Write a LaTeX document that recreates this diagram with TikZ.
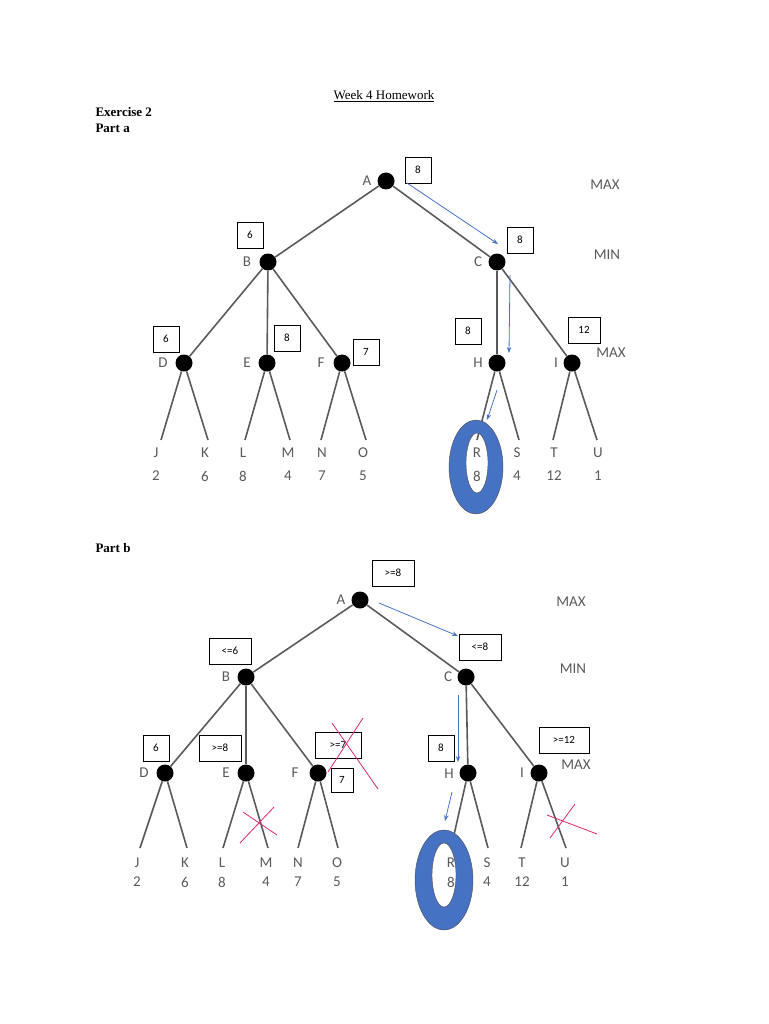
\documentclass[tikz,border=0pt]{standalone}
\usepackage{fontspec}
\setmainfont{Liberation Serif}
\newfontfamily\sansf{Carlito}
\usetikzlibrary{arrows.meta}
\definecolor{treegray}{RGB}{90,90,90}
\definecolor{ovalblue}{RGB}{70,114,196}
\definecolor{crossred}{RGB}{220,40,110}
\begin{document}
\begin{tikzpicture}[x=1pt,y=-1pt,
    dot/.style={circle,fill=black,inner sep=0pt,minimum size=17pt},
    edge/.style={treegray,line width=1.6pt},
    lbl/.style={font=\sansf\fontsize{15}{15}\selectfont,text=treegray},
    val/.style={draw,thick,fill=white,font=\sansf\fontsize{11}{11}\selectfont,minimum width=26pt,minimum height=26pt,inner sep=2pt},
    move/.style={ovalblue,thick,-{Stealth[length=6pt]}},
    cross/.style={crossred,thick}]
    \useasboundingbox (0,0) rectangle (768,1024);

    % Header
    \node[font=\fontsize{13}{13}\selectfont] (title) at (384,96) {\underline{Week 4 Homework}};
    \node[anchor=west,font=\bfseries\fontsize{13}{13}\selectfont] (ex) at (92,112) {Exercise 2};
    \node[anchor=west,font=\bfseries\fontsize{13}{13}\selectfont] (pa) at (92,128) {Part a};
    \node[anchor=west,font=\bfseries\fontsize{13}{13}\selectfont] (pb) at (92,548) {Part b};

    % ---------- Part a ----------
    \node[dot] (a-A) at (386,181) {};
    \node[dot] (a-B) at (268,262) {};
    \node[dot] (a-C) at (497,262) {};
    \node[dot] (a-D) at (184,363) {};
    \node[dot] (a-E) at (267,363) {};
    \node[dot] (a-F) at (342,363) {};
    \node[dot] (a-H) at (497,363) {};
    \node[dot] (a-I) at (572,363) {};
    \node[lbl] at (367,181) {A};
    \node[lbl] at (247,262) {B};
    \node[lbl] at (478,262) {C};
    \node[lbl] at (163,363) {D};
    \node[lbl] at (247,363) {E};
    \node[lbl] at (321,363) {F};
    \node[lbl] at (478,363) {H};
    \node[lbl] at (556,363) {I};
    \foreach \p/\c in {A/B,A/C,B/D,B/E,B/F,C/H,C/I}
        \draw[edge] (a-\p) -- (a-\c);
    \foreach \p/\n/\x/\lx/\v in {D/J/161/156/2,D/K/208/205/6,E/L/245/243/8,E/M/290/288/4,
                                 F/N/321/322/7,F/O/366/363/5,H/R/477/477/8,H/S/519/517/4,
                                 I/T/553/554/12,I/U/597/598/1}{
        \coordinate (a-\n) at (\x,440);
        \draw[edge] (a-\p) -- (a-\n);
        \node[lbl] at (\lx,453) {\n};
        \node[lbl] at (\lx,476) {\v};
    }
    \node[lbl] at (605,185) {MAX};
    \node[lbl] at (607,255) {MIN};
    \node[lbl] at (611,353) {MAX};
    % Values
    \node[val] (va-A) at (418,170) {8};
    \node[val] (va-C) at (520,240) {8};
    \node[val] (va-B) at (250,235) {6};
    \node[val] (va-D) at (166,339) {6};
    \node[val] (va-E) at (287,338) {8};
    \node[val] (va-F) at (366,352) {7};
    \node[val] (va-H) at (468,331) {8};
    \node[val,minimum width=32pt] (va-I) at (584,330) {12};
    % Best line
    \coordinate (ma1) at (407,183); \coordinate (ma2) at (498,244);
    \coordinate (ma3) at (510,275); \coordinate (ma4) at (509,353);
    \coordinate (ma5) at (497,390); \coordinate (ma6) at (487,420);
    \draw[move] (ma1) -- (ma2);
    \draw[move] (ma3) -- (ma4);
    \draw[move] (ma5) -- (ma6);
    \fill[ovalblue,draw=black!70,even odd rule] (476,467) ellipse [x radius=27,y radius=47]
        (477,463) ellipse [x radius=11,y radius=30];

    % ---------- Part b ----------
    \node[dot] (b-A) at (360,600) {};
    \node[dot] (b-B) at (246,677) {};
    \node[dot] (b-C) at (466,677) {};
    \node[dot] (b-D) at (165,773) {};
    \node[dot] (b-E) at (246,773) {};
    \node[dot] (b-F) at (318,773) {};
    \node[dot] (b-H) at (468,773) {};
    \node[dot] (b-I) at (539,773) {};
    \node[lbl] at (341,600) {A};
    \node[lbl] at (226,677) {B};
    \node[lbl] at (448,677) {C};
    \node[lbl] at (144,773) {D};
    \node[lbl] at (226,773) {E};
    \node[lbl] at (295,773) {F};
    \node[lbl] at (449,774) {H};
    \node[lbl] at (522,773) {I};
    \foreach \p/\c in {A/B,A/C,B/D,B/E,B/F,C/H,C/I}
        \draw[edge] (b-\p) -- (b-\c);
    \foreach \p/\n/\x/\lx/\v in {D/J/140/137/2,D/K/187/185/6,E/L/223/222/8,E/M/268/266/4,
                                 F/N/298/298/7,F/O/338/337/5,H/R/451/451/8,H/S/488/487/4,
                                 I/T/521/522/12,I/U/566/565/1}{
        \coordinate (b-\n) at (\x,848);
        \draw[edge] (b-\p) -- (b-\n);
        \node[lbl] at (\lx,863) {\n};
        \node[lbl] at (\lx,882) {\v};
    }
    \node[lbl] at (571,602) {MAX};
    \node[lbl] at (573,669) {MIN};
    \node[lbl] at (576,765) {MAX};
    % Bounds
    \node[val,minimum width=42pt] (vb-A) at (393,573) {>=8};
    \node[val,minimum width=42pt] (vb-C) at (480,647) {<=8};
    \node[val,minimum width=42pt] (vb-B) at (230,651) {<=6};
    \node[val] (vb-D) at (156,748) {6};
    \node[val,minimum width=42pt] (vb-E) at (220,748) {>=8};
    \node[val,minimum width=46pt] (vb-F) at (338,745) {>=7};
    \node[val,minimum width=22pt,minimum height=24pt] (vb-F2) at (342,780) {7};
    \node[val] (vb-H) at (441,748) {8};
    \node[val,minimum width=50pt] (vb-I) at (564,740) {>=12};
    % Best line
    \coordinate (mb1) at (379,603); \coordinate (mb2) at (458,636);
    \coordinate (mb3) at (458,695); \coordinate (mb4) at (458,762);
    \coordinate (mb5) at (452,792); \coordinate (mb6) at (445,821);
    \draw[move] (mb1) -- (mb2);
    \draw[move] (mb3) -- (mb4);
    \draw[move] (mb5) -- (mb6);
    \fill[ovalblue,draw=black!70,even odd rule] (444,880) ellipse [x radius=29,y radius=50]
        (444,875) ellipse [x radius=12,y radius=32];
    % Pruned
    \draw[cross] (363,718) -- (328,772);
    \draw[cross] (332,723) -- (378,789);
    \draw[cross] (240,843) -- (274,807);
    \draw[cross] (243,812) -- (277,835);
    \draw[cross] (550,838) -- (575,804);
    \draw[cross] (547,815) -- (597,834);
\end{tikzpicture}
\end{document}
